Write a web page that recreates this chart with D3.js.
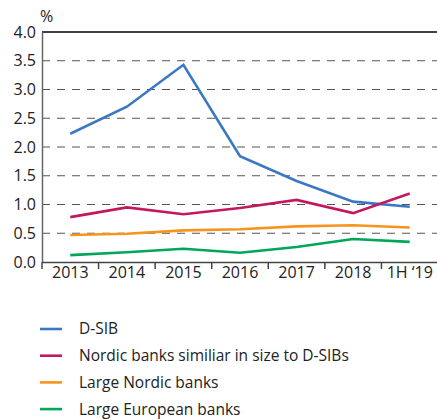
<html>
<head>
<style>
body { margin: 0; background: #fff; }
text { font-family: "Open Sans", "Noto Sans", sans-serif; fill: #222; }
.grid line { stroke: #555; stroke-dasharray: 8,7; stroke-width: 1.2; }
</style>
</head>
<body>
<div id="vis"></div>
<script src="https://cdn.jsdelivr.net/npm/d3@7"></script>
<script>
// data
var years = ["2013", "2014", "2015", "2016", "2017", "2018", "1H \u201819"];
var dsib = [2.23, 2.70, 3.43, 1.84, 1.41, 1.05, 0.96];
var nordicSimilar = [0.78, 0.95, 0.83, 0.94, 1.08, 0.85, 1.19];
var largeNordic = [0.47, 0.49, 0.55, 0.57, 0.62, 0.64, 0.60];
var largeEuropean = [0.12, 0.17, 0.23, 0.16, 0.26, 0.40, 0.35];
var yTicks = [0, 0.5, 1, 1.5, 2, 2.5, 3, 3.5, 4];

var series = [
	{ name: "D-SIB", values: dsib, color: "#3b78c3" },
	{ name: "Nordic banks similiar in size to D-SIBs", values: nordicSimilar, color: "#c2185f" },
	{ name: "Large Nordic banks", values: largeNordic, color: "#f7941d" },
	{ name: "Large European banks", values: largeEuropean, color: "#00a659" }
];

var margin = {top: 32, right: 0, bottom: 157, left: 42},
		width = 438 - margin.left - margin.right,
		height = 419 - margin.top - margin.bottom;

var svg = d3.select("#vis").append("svg")
		.attr("width", 437)
		.attr("height", 419);

var g = svg.append("g")
		.attr("transform", "translate(" + margin.left + "," + margin.top + ")");

var x = d3.scaleBand().domain(years).range([0, width]);
var y = d3.scaleLinear().domain([0, 4]).range([height, 0]);

// dashed grid lines
g.append("g").attr("class", "grid")
	.selectAll("line")
	.data(yTicks.filter(function(d) { return d > 0 && d < 4; }))
	.enter().append("line")
		.attr("x1", 0).attr("x2", width)
		.attr("y1", function(d) { return y(d); })
		.attr("y2", function(d) { return y(d); });

// top border
g.append("line")
	.attr("x1", 0).attr("x2", width)
	.attr("y1", y(4)).attr("y2", y(4))
	.attr("stroke", "#000").attr("stroke-width", 1.5);

// y axis
var yAxis = g.append("g")
	.call(d3.axisLeft(y).tickValues(yTicks).tickFormat(d3.format(".1f")).tickSize(0).tickPadding(6));
yAxis.select(".domain").attr("stroke", "#666").attr("stroke-width", 1.5);
yAxis.selectAll("text").style("font-size", "16px").attr("fill", "#222");

// x axis
var xAxis = g.append("g")
	.attr("transform", "translate(0," + height + ")")
	.call(d3.axisBottom(x).tickSize(0).tickPadding(5));
xAxis.select(".domain").attr("stroke", "#444").attr("stroke-width", 1.5);
xAxis.selectAll("text").style("font-size", "16px").attr("fill", "#222");

// tick marks between bands
g.append("g").selectAll("line")
	.data(years)
	.enter().append("line")
		.attr("x1", function(d) { return x(d); })
		.attr("x2", function(d) { return x(d); })
		.attr("y1", height).attr("y2", height + 7)
		.attr("stroke", "#444").attr("stroke-width", 1.5);

// % label
svg.append("text")
	.attr("x", 40).attr("y", 22)
	.style("font-size", "16px")
	.text("%");

// lines
var line = d3.line()
	.x(function(d, i) { return x(years[i]) + x.bandwidth() / 2; })
	.y(function(d) { return y(d); });

g.selectAll(".series")
	.data(series)
	.enter().append("path")
		.attr("class", "series")
		.attr("fill", "none")
		.attr("stroke", function(d) { return d.color; })
		.attr("stroke-width", 2.6)
		.attr("d", function(d) { return line(d.values); });

// legend
var legend = svg.append("g").selectAll("g")
	.data(series)
	.enter().append("g")
		.attr("transform", function(d, i) { return "translate(40," + (329 + i * 26.7) + ")"; });

legend.append("line")
	.attr("x1", 0).attr("x2", 22)
	.attr("stroke", function(d) { return d.color; })
	.attr("stroke-width", 2.6);

legend.append("text")
	.attr("x", 39).attr("dy", "0.35em")
	.style("font-size", "15.5px")
	.text(function(d) { return d.name; });
</script>
</body>
</html>
